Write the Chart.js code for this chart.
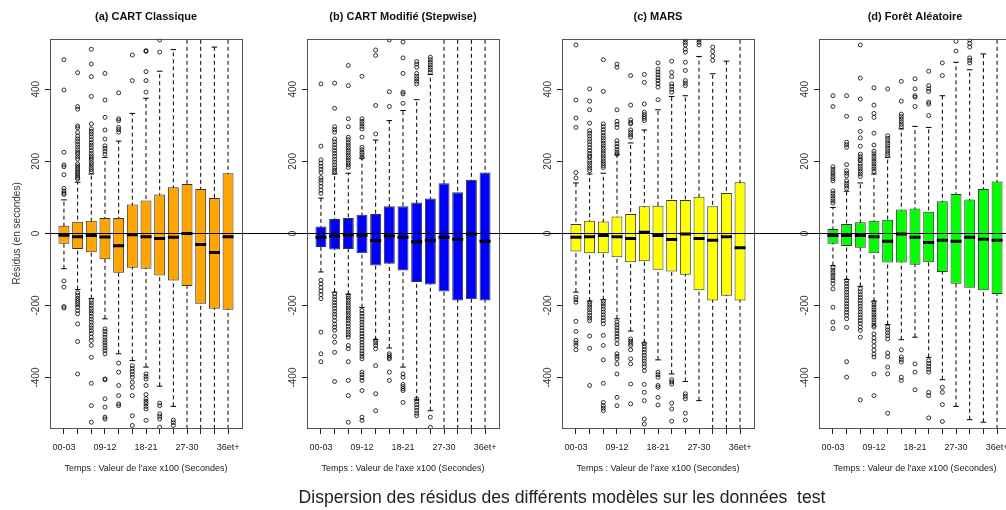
<!DOCTYPE html>
<html>
<head>
<meta charset="utf-8">
<script src="https://cdn.jsdelivr.net/npm/chart.js@4"></script>
<style>
  html, body { margin: 0; padding: 0; background: #fff; overflow: hidden; }
  #wrap { position: relative; width: 1006px; height: 510px; overflow: hidden; }
  canvas { position: absolute; top: 0; }
  #caption {
    position: absolute; top: 487px; left: 562px; transform: translateX(-50%);
    font: 17.6px "Liberation Sans", Arial, sans-serif; line-height: 20px;
    color: #222; white-space: pre;
  }
</style>
</head>
<body>
<div id="wrap">
  <canvas id="p0" width="257" height="510" style="left:0px"></canvas>
  <canvas id="p1" width="257" height="510" style="left:257px"></canvas>
  <canvas id="p2" width="257" height="510" style="left:512px"></canvas>
  <canvas id="p3" width="257" height="510" style="left:769px"></canvas>
  <div id="caption">Dispersion des résidus des différents modèles sur les données  test</div>
</div>
<script>
// catégories (tranches de temps) et graduations
const cats = ['00-03', '03-06', '06-09', '09-12', '12-15', '15-18', '18-21', '21-24', '24-27', '27-30', '30-33', '33-36', '36et+'];
const yTicks = [-400, -200, 0, 200, 400];

// (a) CART Classique
const cartQ1 = [-29, -43, -52, -72, -109, -95, -98, -117, -131, -146, -195, -209, -212];
const cartMed = [-5, -9, -6, -10, -34, -4, -9, -14, -11, 0, -31, -53, -9];
const cartQ3 = [21, 32, 35, 43, 43, 80, 91, 108, 128, 137, 123, 98, 167];
const cartLo = [-98, -156, -181, -237, -334, -353, -371, -424, -480, -620, -620, -620, -620];
const cartHi = [93, 142, 165, 211, 256, 333, 375, 450, 510, 620, 620, 517, 620];
const cartOut = [
  [482, 398, 225, 190, 185, 163, 125, 118, 112, 108, -132, -149, -203, -207],
  [446, 352, 345, 298, 293, 280, 270, 262, 255, 247, 240, 232, 225, 220, 212, 206, 193, 187, 181, 176, 170, 165, 160, 155, 151, -165, -172, -180, -186, -192, -198, -205, -214, -223, -251, -300, -390],
  [511, 470, 435, 380, 304, 290, 283, 276, 268, 260, 252, 245, 238, 230, 222, 215, 209, 203, 196, 190, 183, 177, 171, -186, -193, -200, -208, -215, -222, -230, -238, -246, -255, -262, -270, -278, -288, -297, -311, -344, -416, -478, -524],
  [444, 370, 322, 287, 262, 243, 236, 228, 220, -265, -272, -280, -288, -296, -303, -310, -318, -325, -334, -404, -406, -459, -482, -510, -515],
  [390, 318, 313, 294, 288, 281, -360, -385, -422, -450, -473, -478],
  [495, 424, -367, -375, -383, -391, -399, -413, -427, -450, -506, -533],
  [507, 505, 449, 424, 392, -390, -397, -404, -422, -447, -459, -466, -472, -480, -487, -519],
  [537, 503, -471, -478, -501, -508, -515, -538],
  [-518, -525, -533],
  [], [], [], []
];

// (b) CART Modifié (Stepwise)
const stepQ1 = [-38, -45, -43, -55, -89, -84, -103, -135, -142, -161, -186, -183, -186];
const stepMed = [-11, -7, -4, -5, -20, -7, -11, -23, -19, -11, -16, -2, -22];
const stepQ3 = [19, 40, 43, 52, 54, 75, 75, 86, 97, 139, 114, 149, 169];
const stepLo = [-107, -163, -169, -206, -295, -318, -371, -462, -492, -620, -620, -620, -620];
const stepHi = [98, 165, 167, 209, 259, 313, 341, 371, 441, 620, 620, 620, 620];
const stepOut = [
  [415, 242, 204, 195, 186, 178, 169, 155, 148, 140, 130, 120, 111, -130, -140, -150, -160, -170, -181, -274, -334, -356],
  [417, 347, 296, 288, 281, 262, 254, 246, 238, 230, 222, 214, 206, 198, 190, 182, 175, 169, -168, -176, -184, -192, -200, -208, -216, -224, -232, -242, -252, -260, -269, -286, -302, -330, -411],
  [466, 410, 318, 296, 267, 260, 252, 245, 238, 231, 224, 217, 210, 203, 196, 190, 183, -172, -179, -186, -193, -200, -207, -214, -221, -228, -235, -242, -250, -258, -266, -274, -281, -288, -311, -320, -356, -408, -450, -524],
  [436, 318, 311, 304, 297, 290, 267, 239, 232, 225, 218, 211, -214, -222, -230, -238, -246, -254, -262, -270, -278, -286, -294, -302, -310, -318, -326, -334, -341, -348, -385, -392, -400, -408, -436, -510, -519],
  [509, 494, 355, 276, -297, -304, -311, -320, -367, -445, -492],
  [537, 393, 352, -334, -339, -344, -348, -385, -408],
  [531, 487, 444, 392, 387, 361, -390, -399, -419, -425, -431, -436, -469],
  [477, 470, 461, 444, 436, 429, 422, 415, -459, -467, -475, -483, -491, -499, -506],
  [489, 482, 475, 468, 461, 454, 447, -510, -538],
  [], [], [], []
];

// (c) MARS
const marsQ1 = [-50, -55, -55, -66, -80, -77, -101, -106, -115, -158, -186, -173, -186];
const marsMed = [-11, -9, -6, -9, -14, 3, -6, -17, -2, -14, -19, -9, -40];
const marsQ3 = [26, 35, 33, 47, 54, 75, 77, 93, 93, 102, 75, 112, 142];
const marsLo = [-163, -188, -184, -237, -271, -304, -351, -390, -411, -464, -620, -620, -620];
const marsHi = [140, 165, 167, 218, 251, 287, 343, 380, 382, 491, 443, 478, 620];
const marsOut = [
  [523, 370, 320, 294, 169, 154, -177, -184, -191, -244, -272, -297, -304, -311, -323],
  [401, 367, 343, 306, 285, 278, 270, 262, 254, 246, 238, 230, 222, 215, 211, 202, 195, 188, 181, 174, -191, -198, -205, -212, -220, -228, -235, -242, -285, -319, -422],
  [482, 394, 304, 296, 288, 280, 272, 265, 257, 250, 243, 236, 229, 222, 215, 208, 201, 194, 188, 183, -188, -195, -202, -210, -218, -226, -234, -242, -251, -283, -311, -351, -416, -469, -478, -485, -492],
  [470, 461, 343, 311, 303, 294, 257, 249, 241, 233, 226, 220, -246, -254, -262, -270, -278, -286, -294, -306, -334, -341, -348, -362, -390, -455, -478],
  [438, 356, 315, 308, 304, 287, 280, 273, 267, -293, -299, -305, -311, -323, -348, -362, -418, -473],
  [441, 419, 359, 336, 330, 324, 319, 313, -306, -314, -322, -330, -338, -346, -354, -362, -370, -381, -419, -441, -464, -515, -529],
  [473, 456, 448, 440, 432, 424, 416, 406, 371, -385, -392, -399, -422, -427, -455, -476],
  [478, 447, 435, 415, 408, 400, 392, -406, -412, -418, -471, -487, -521],
  [537, 530, 523, 511, 503, 475, 452, 424, 417, 410, -445, -452, -459, -499, -518],
  [537, 530, 523],
  [517, 505, 492, 480],
  [], []
];

// (d) Forêt Aléatoire
const rfQ1 = [-29, -35, -40, -55, -81, -81, -87, -80, -107, -140, -151, -158, -168];
const rfMed = [-6, -6, -6, -9, -22, -2, -11, -25, -19, -22, -11, -16, -19];
const rfQ3 = [12, 26, 31, 35, 38, 66, 69, 60, 89, 109, 94, 123, 144];
const rfLo = [-89, -128, -147, -188, -253, -295, -288, -344, -406, -480, -517, -524, -620];
const rfHi = [72, 117, 140, 165, 211, 290, 297, 294, 382, 475, 454, 498, 620];
const rfOut = [
  [382, 352, 185, 178, 171, 165, 158, 152, 146, 118, 111, 104, 97, 90, 84, -95, -102, -109, -116, -123, -130, -140, -154, -205, -246, -264],
  [382, 325, 253, 246, 239, 191, 174, 167, 160, 146, 139, 132, 125, -131, -139, -147, -155, -163, -171, -179, -187, -195, -203, -211, -219, -227, -237, -261, -356, -399],
  [523, 431, 373, 318, 283, 265, 242, 220, 213, 206, 202, 193, 186, 179, 172, 165, 158, -154, -162, -170, -178, -186, -194, -202, -210, -218, -226, -234, -242, -250, -260, -269, -288, -462],
  [404, 356, 333, 322, 278, 245, 228, 221, 214, 207, 200, 193, 186, 179, 172, -191, -198, -205, -212, -219, -226, -233, -240, -248, -255, -260, -279, -290, -300, -312, -324, -335, -343, -390, -450],
  [401, 271, 264, 257, 250, 243, 236, 229, 222, 216, -260, -268, -276, -284, -293, -332, -342, -371, -390, -499],
  [422, 367, 331, 324, 317, 310, 303, 296, -323, -343, -350, -357, -399, -408],
  [429, 401, 382, 378, 352, -362, -385, -434],
  [450, 410, 401, 394, 364, 359, 327, -353, -361, -369, -377, -385, -441, -450, -512],
  [473, 438, -427, -441, -475, -522],
  [533, 506],
  [537, 527, 517, 487, 480, 473],
  [], []
];

const panels = [
  { title: '(a) CART Classique', color: '#FFA500', q1: cartQ1, med: cartMed, q3: cartQ3, lo: cartLo, hi: cartHi, out: cartOut },
  { title: '(b) CART Modifié (Stepwise)', color: '#0000FF', q1: stepQ1, med: stepMed, q3: stepQ3, lo: stepLo, hi: stepHi, out: stepOut },
  { title: '(c) MARS', color: '#FFFF00', q1: marsQ1, med: marsMed, q3: marsQ3, lo: marsLo, hi: marsHi, out: marsOut },
  { title: '(d) Forêt Aléatoire', color: '#00FF00', q1: rfQ1, med: rfMed, q3: rfQ3, lo: rfLo, hi: rfHi, out: rfOut }
];

Chart.defaults.font.family = '"Liberation Sans", Arial, sans-serif';

// cadre, ligne zéro et graduations verticales (texte tourné comme dans R)
const framePlugin = {
  id: 'frame',
  afterDatasetsDraw(chart, args, opts) {
    const { ctx, chartArea: a } = chart;
    const y = chart.scales.y;
    ctx.save();
    const y0 = Math.round(y.getPixelForValue(0)) + 0.5;
    ctx.strokeStyle = '#000';
    ctx.lineWidth = 1.2;
    ctx.beginPath();
    ctx.moveTo(opts.first ? a.left - 5 : 0, y0);
    ctx.lineTo(chart.width, y0);
    ctx.stroke();

    ctx.strokeStyle = '#555';
    ctx.lineWidth = 1;
    ctx.strokeRect(Math.round(a.left) + 0.5, Math.round(a.top) + 0.5, Math.round(a.right - a.left), Math.round(a.bottom - a.top));

    ctx.fillStyle = '#333';
    ctx.font = '10px "Liberation Sans", Arial, sans-serif';
    ctx.textAlign = 'center';
    ctx.textBaseline = 'middle';
    yTicks.forEach(v => {
      ctx.save();
      ctx.translate(a.left - 14, y.getPixelForValue(v));
      ctx.rotate(-Math.PI / 2);
      ctx.fillText(String(v), 0, 0);
      ctx.restore();
    });
    ctx.restore();
  }
};

panels.forEach((p, k) => {
  const whiskers = [];
  const outliers = [];
  cats.forEach((c, i) => {
    whiskers.push({ x: i, y: p.lo[i] }, { x: i, y: p.hi[i] }, { x: i, y: null });
    p.out[i].forEach(v => outliers.push({ x: i, y: v }));
  });

  new Chart(document.getElementById('p' + k), {
    type: 'bar',
    data: {
      datasets: [
        {
          type: 'line',
          data: whiskers,
          borderColor: '#000',
          borderWidth: 1,
          borderDash: [4, 3],
          pointRadius: 0,
          spanGaps: false,
          fill: false,
          order: 4
        },
        {
          type: 'bar',
          data: cats.map((c, i) => ({ x: i, y: [p.q1[i], p.q3[i]] })),
          backgroundColor: p.color,
          borderColor: '#333',
          borderWidth: 1,
          borderSkipped: false,
          categoryPercentage: 1,
          barPercentage: 0.8,
          order: 3
        },
        {
          type: 'scatter',
          data: cats.map((c, i) => ({ x: i, y: p.hi[i] })).concat(cats.map((c, i) => ({ x: i, y: p.lo[i] }))),
          pointStyle: 'line',
          pointRadius: 2.8,
          borderWidth: 1,
          borderColor: '#000',
          order: 2
        },
        {
          type: 'scatter',
          data: cats.map((c, i) => ({ x: i, y: p.med[i] })),
          pointStyle: 'line',
          pointRadius: 5.5,
          borderWidth: 3,
          borderColor: '#000',
          order: 1
        },
        {
          type: 'scatter',
          data: outliers,
          pointStyle: 'circle',
          pointRadius: 2,
          borderWidth: 0.8,
          borderColor: '#000',
          backgroundColor: 'rgba(0,0,0,0)',
          order: 0
        }
      ]
    },
    options: {
      responsive: false,
      animation: false,
      events: [],
      layout: { padding: { left: 0, right: 15, top: 0, bottom: 0 } },
      plugins: {
        legend: { display: false },
        tooltip: { enabled: false },
        title: {
          display: true,
          text: p.title,
          fullSize: false,
          color: '#111',
          font: { size: 11, weight: 'bold' },
          padding: { top: 10, bottom: 15.6 }
        },
        frame: { first: k === 0 }
      },
      scales: {
        x: {
          type: 'linear',
          min: -1.02,
          max: 13.02,
          offset: false,
          afterBuildTicks: s => { s.ticks = cats.map((c, i) => ({ value: i })); },
          afterFit: s => { s.height = 82; },
          ticks: {
            autoSkip: false,
            maxRotation: 0,
            padding: 8,
            color: '#222',
            font: { size: 9 },
            callback: (v, i) => (i % 3 === 0 ? cats[i] : '')
          },
          grid: { drawOnChartArea: false, offset: false, tickLength: 6, tickColor: '#222' },
          border: { display: false },
          title: {
            display: true,
            text: "Temps : Valeur de l'axe x100 (Secondes)",
            color: '#222',
            font: { size: 9 },
            padding: { top: 0, bottom: 36 }
          }
        },
        y: {
          type: 'linear',
          min: -540,
          max: 540,
          afterBuildTicks: s => { s.ticks = yTicks.map(v => ({ value: v })); },
          afterFit: s => { s.width = 50; },
          ticks: { display: false },
          grid: { drawOnChartArea: false, tickLength: 5, tickColor: '#222' },
          border: { display: false },
          title: {
            display: k === 0,
            text: 'Résidus (en secondes)',
            color: '#333',
            font: { size: 10 },
            padding: { top: 11, bottom: 0 }
          }
        }
      }
    },
    plugins: [framePlugin]
  });
});
</script>
</body>
</html>
